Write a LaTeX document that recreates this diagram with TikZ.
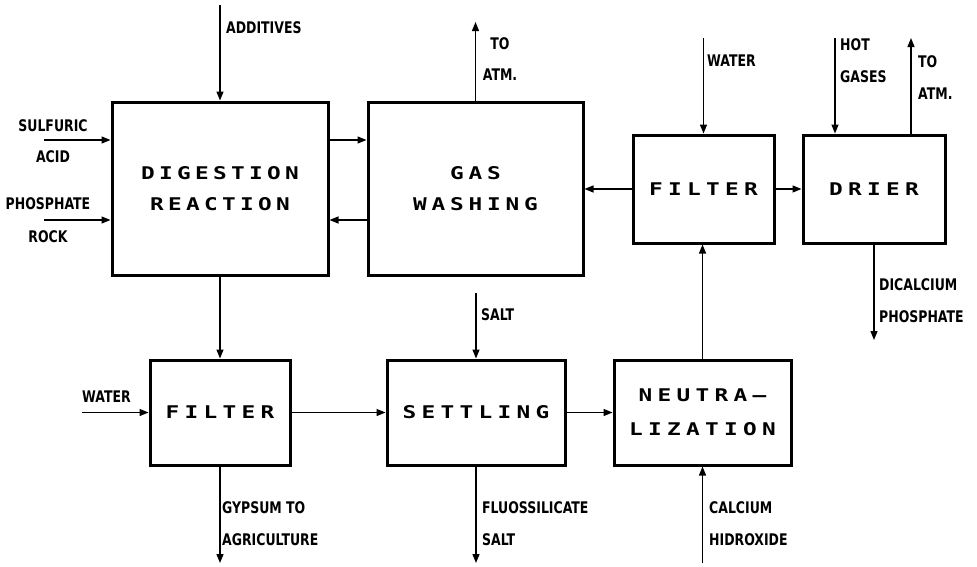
\documentclass[tikz,border=0pt]{standalone}
\usepackage{fontspec}
\usetikzlibrary{arrows.meta}
\newfontfamily\labfont[FakeStretch=0.78]{DejaVu Sans Bold}
\newfontfamily\boxfont[FakeStretch=1.3]{DejaVu Sans Mono Bold}
\makeatletter
\newcommand\spaced[2]{\@tfor\ch:=#2\do{\makebox[#1]{\ch}}}
\makeatother
\begin{document}
\begin{tikzpicture}[x=1pt,y=-1pt,
  box/.style={draw,line width=3pt,inner sep=0,align=center,font=\boxfont\fontsize{17.5}{31}\selectfont},
  lab/.style={inner sep=0,font=\labfont\fontsize{16}{18}\selectfont},
  arr/.style={line width=1.3pt,-{Triangle[length=9pt,width=7pt]}}]
\useasboundingbox (0,0) rectangle (977,566);
% boxes
\node[box,minimum width=216pt,minimum height=173pt] (dig) at (220,188.5) {\spaced{18pt}{DIGESTION}\\\spaced{18pt}{REACTION}};
\node[box,minimum width=215pt,minimum height=173pt] (gas) at (475.5,188.5) {\spaced{18.5pt}{GAS}\\\spaced{18.5pt}{WASHING}};
\node[box,minimum width=141pt,minimum height=108pt] (fil2) at (703.5,189) {\spaced{19pt}{FILTER}};
\node[box,minimum width=142pt,minimum height=108pt] (dri) at (874,189) {\spaced{19pt}{DRIER}};
\node[box,minimum width=140pt,minimum height=105pt] (fil1) at (220,412.5) {\spaced{19pt}{FILTER}};
\node[box,minimum width=178pt,minimum height=105pt] (set) at (476,412.5) {\spaced{19pt}{SETTLING}};
\node[box,minimum width=177pt,minimum height=105pt,font=\boxfont\fontsize{17.5}{34}\selectfont] (neu) at (702.5,412.5) {\spaced{19pt}{NEUTRA–}\\\spaced{19pt}{LIZATION}};
% labels
\node[lab,anchor=west] (l1) at (226,28) {ADDITIVES};
\node[lab] (l2) at (53,126) {SULFURIC};
\node[lab] (l3) at (53,157) {ACID};
\node[lab] (l4) at (48,204) {PHOSPHATE};
\node[lab] (l5) at (48,237) {ROCK};
\node[lab] (l6) at (500,44) {TO};
\node[lab] (l7) at (500,75) {ATM.};
\node[lab,anchor=west] (l8) at (707,61) {WATER};
\node[lab,anchor=west] (l9) at (840,45) {HOT};
\node[lab,anchor=west] (l10) at (840,77) {GASES};
\node[lab,anchor=west] (l11) at (918,62) {TO};
\node[lab,anchor=west] (l12) at (918,94) {ATM.};
\node[lab,anchor=west] (l13) at (879,285) {DICALCIUM};
\node[lab,anchor=west] (l14) at (879,317) {PHOSPHATE};
\node[lab,anchor=west] (l15) at (82,397) {WATER};
\node[lab,anchor=west] (l16) at (222,508) {GYPSUM TO};
\node[lab,anchor=west] (l17) at (222,540) {AGRICULTURE};
\node[lab,anchor=west] (l18) at (481,315) {SALT};
\node[lab,anchor=west] (l19) at (482,508) {FLUOSSILICATE};
\node[lab,anchor=west] (l20) at (482,540) {SALT};
\node[lab,anchor=west] (l21) at (709,508) {CALCIUM};
\node[lab,anchor=west] (l22) at (709,540) {HIDROXIDE};
% free ends
\coordinate (addS) at (220,5);
\coordinate (sulS) at (44,140);
\coordinate (phoS) at (44,220);
\coordinate (atm1) at (475.5,22);
\coordinate (watS) at (703.5,38);
\coordinate (hotS) at (835,38);
\coordinate (atm2) at (911,38);
\coordinate (dicE) at (874,340);
\coordinate (wat2S) at (82,412.5);
\coordinate (gypE) at (220,563);
\coordinate (saltS) at (476,293);
\coordinate (fluE) at (476,563);
\coordinate (calS) at (702.5,563);
% connectors
\draw[arr] (addS) -- (dig.north);
\draw[arr] (sulS) -- (sulS -| dig.west);
\draw[arr] (phoS) -- (phoS -| dig.west);
\draw[arr] (gas.north) -- (atm1);
\draw[arr] ([yshift=48.5pt]dig.east) -- ([yshift=48.5pt]gas.west);
\draw[arr] ([yshift=-31.5pt]gas.west) -- ([yshift=-31.5pt]dig.east);
\draw[arr] (fil2.west) -- (fil2.west -| gas.east);
\draw[arr] (fil2.east) -- (dri.west);
\draw[arr] (watS) -- (fil2.north);
\draw[arr] (hotS) -- (hotS |- dri.north);
\draw[arr] (atm2 |- dri.north) -- (atm2);
\draw[arr] (dri.south) -- (dicE);
\draw[arr] (neu.north) -- (neu.north |- fil2.south);
\draw[arr] (dig.south) -- (fil1.north);
\draw[arr] (wat2S) -- (fil1.west);
\draw[arr] (fil1.south) -- (gypE);
\draw[arr] (fil1.east) -- (set.west);
\draw[arr] (saltS) -- (set.north);
\draw[arr] (set.south) -- (fluE);
\draw[arr] (set.east) -- (neu.west);
\draw[arr] (calS) -- (neu.south);
\end{tikzpicture}
\end{document}
